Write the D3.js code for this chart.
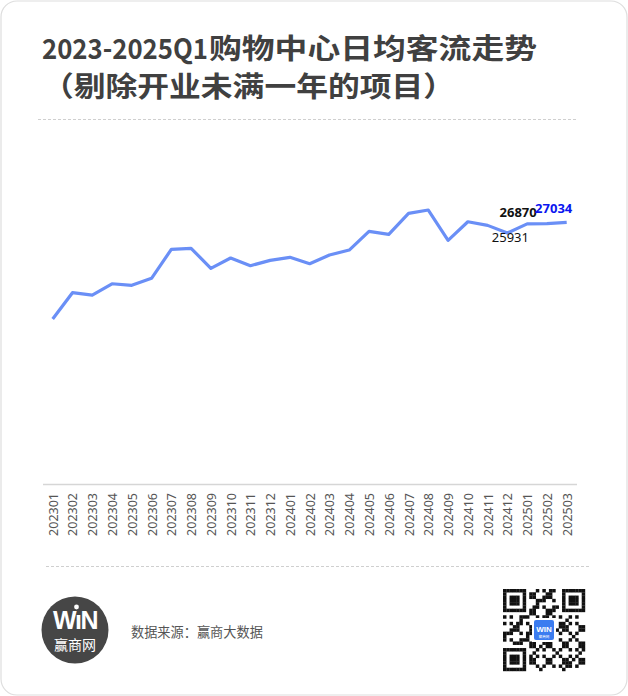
<!DOCTYPE html>
<html><head><meta charset="utf-8">
<script src="https://cdn.jsdelivr.net/npm/d3@7"></script>
<style>
html,body{margin:0;padding:0;background:#fff;}
svg{display:block;}
</style></head>
<body>
<script>
const months = ["202301","202302","202303","202304","202305","202306","202307","202308","202309","202310","202311","202312","202401","202402","202403","202404","202405","202406","202407","202408","202409","202410","202411","202412","202501","202502","202503"];
const traffic = [17080,19790,19550,20710,20550,21270,24250,24360,22300,23360,22570,23120,23430,22770,23670,24180,26100,25800,27960,28300,25180,27090,26720,25931,26870,26900,27034];
const labelled = [
  {month:"202412", value:25931, cls:"plain"},
  {month:"202501", value:26870, cls:"bold"},
  {month:"202503", value:27034, cls:"blue"}
];
const titleLine1a = "2023-2025Q1";
const titleLine1b = "购物中心日均客流走势";
const titleLine2 = "（剔除开业未满一年的项目）";
const sourceText = "数据来源：赢商大数据";

const W = 628, H = 696;
const svg = d3.select("body").append("svg").attr("width", W).attr("height", H);

// card
svg.append("rect").attr("x",1).attr("y",1).attr("width",W-2).attr("height",H-2)
  .attr("rx",16).attr("fill","#fff").attr("stroke","#dedede").attr("stroke-width",1.2);

// title
const tf = "'Noto Sans CJK SC','Noto Sans',sans-serif";
svg.append("text").attr("x",42).attr("y",59).attr("font-family",tf).attr("font-size",28)
  .attr("font-weight",600).attr("fill","#404040")
  .attr("textLength",166).attr("lengthAdjust","spacingAndGlyphs").text(titleLine1a);
svg.append("text").attr("x",209).attr("y",59).attr("font-family",tf).attr("font-size",28)
  .attr("font-weight",600).attr("fill","#404040")
  .attr("textLength",328).attr("lengthAdjust","spacingAndGlyphs").text(titleLine1b);
svg.append("text").attr("x",42).attr("y",96.5).attr("font-family",tf).attr("font-size",28)
  .attr("font-weight",600).attr("fill","#404040")
  .attr("textLength",413).attr("lengthAdjust","spacingAndGlyphs").text(titleLine2);

// dashed separators
svg.append("line").attr("x1",38).attr("x2",577).attr("y1",119.5).attr("y2",119.5)
  .attr("stroke","#cfcfcf").attr("stroke-dasharray","3,2");
svg.append("line").attr("x1",46).attr("x2",590).attr("y1",566.5).attr("y2",566.5)
  .attr("stroke","#cfcfcf").attr("stroke-dasharray","3,2");

// scales
const x = d3.scalePoint().domain(months).range([52.7, 566.7]);
const y = d3.scaleLinear().domain([0, 30000]).range([485, 193.5]);

// x axis
const xAxis = svg.append("g").attr("transform","translate(0,485)")
  .call(d3.axisBottom(x).tickSize(0).tickPadding(0));
xAxis.select(".domain").remove();
svg.append("line").attr("x1",43).attr("x2",577).attr("y1",484.5).attr("y2",484.5)
  .attr("stroke","#d6d6d6").attr("stroke-width",1.3);
xAxis.selectAll(".tick text")
  .attr("font-family","'Noto Sans','Open Sans',sans-serif").attr("font-size",12.5).attr("fill","#555")
  .attr("text-anchor","end").attr("dy",null)
  .attr("transform","translate(4.5,8) rotate(-90)");

// line
svg.append("path").datum(traffic)
  .attr("fill","none").attr("stroke","#6a8ff6").attr("stroke-width",3.2)
  .attr("stroke-linejoin","round")
  .attr("d", d3.line().x((d,i)=>x(months[i])).y(d=>y(d)));

// data labels
const lab = svg.append("g").attr("font-family","'Noto Sans','Open Sans',sans-serif").attr("font-size",13);
const offs = {plain:[3,9], bold:[-9,-7], blue:[-13,-9]};
labelled.forEach(l=>{
  const o = offs[l.cls];
  lab.append("text").attr("x",x(l.month)+o[0]).attr("y",y(l.value)+o[1])
    .attr("text-anchor","middle")
    .attr("font-weight", l.cls==="plain"?400:700)
    .attr("fill", l.cls==="blue"?"#0a16f0":"#111")
    .text(l.value);
});

// footer logo
svg.append("circle").attr("cx",75).attr("cy",630).attr("r",33.5).attr("fill","#464646");
svg.append("text").attr("x",75).attr("y",629).attr("text-anchor","middle")
  .attr("font-family","'Liberation Sans',Arial,sans-serif").attr("font-weight",900)
  .attr("font-size",25).attr("fill","#fff").attr("letter-spacing",-1.5).text("WıN");
svg.append("circle").attr("cx",76.5).attr("cy",607).attr("r",2.4).attr("fill","#fff");
svg.append("text").attr("x",75).attr("y",650).attr("text-anchor","middle")
  .attr("font-family",tf).attr("font-size",14).attr("fill","#fff").text("赢商网");

svg.append("text").attr("x",131).attr("y",637).attr("font-family",tf)
  .attr("font-size",13.2).attr("fill","#555").text(sourceText);

// QR code (decorative)
const qr = svg.append("g").attr("transform","translate(503,589)");
const N = 25, cs = 82/N;
const finder = (r,c)=> (r<7&&c<7)||(r<7&&c>=N-7)||(r>=N-7&&c<7);
for(let r=0;r<N;r++){
  for(let c=0;c<N;c++){
    let on;
    if(finder(r,c)){
      const rr = r<7?r:r-(N-7), cc = c<7?c:c-(N-7);
      on = (rr===0||rr===6||cc===0||cc===6)||(rr>=2&&rr<=4&&cc>=2&&cc<=4);
    } else if((r===7&&(c<8||c>=N-8))||(c===7&&(r<8||r>=N-8))||(r===N-8&&c<8)||(c===N-8&&r<8)){
      on = false;
    } else {
      on = ((r*7 + c*13 + r*c*3) % 5) < 2 || ((r+c)%7===0);
    }
    if(on) qr.append("rect").attr("x",c*cs).attr("y",r*cs).attr("width",cs+0.2).attr("height",cs+0.2).attr("fill","#111");
  }
}
qr.append("rect").attr("x",29).attr("y",29).attr("width",24).attr("height",24).attr("fill","#fff");
qr.append("rect").attr("x",31).attr("y",31).attr("width",20).attr("height",20).attr("rx",2).attr("fill","#3b7cf0");
qr.append("text").attr("x",41).attr("y",43).attr("text-anchor","middle").attr("font-family","'Liberation Sans',sans-serif")
  .attr("font-weight",900).attr("font-size",8).attr("fill","#fff").text("WIN");
qr.append("text").attr("x",41).attr("y",48.5).attr("text-anchor","middle").attr("font-family",tf)
  .attr("font-size",3.5).attr("fill","#fff").text("赢商网");
</script>
</body></html>
